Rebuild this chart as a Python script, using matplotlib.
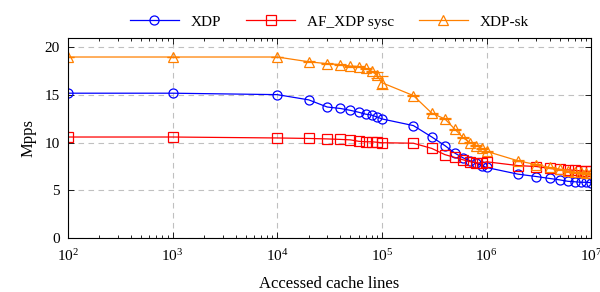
import matplotlib.pyplot as plt
import numpy as np

# Accessed cache lines (x) and throughput in Mpps
lines = [1e2, 1e3, 1e4, 2e4, 3e4, 4e4, 5e4, 6e4, 7e4, 8e4, 9e4, 1e5,
         2e5, 3e5, 4e5, 5e5, 6e5, 7e5, 8e5, 9e5, 1e6,
         2e6, 3e6, 4e6, 5e6, 6e6, 7e6, 8e6, 9e6, 1e7]

xdp = [15.2, 15.2, 15.05, 14.5, 13.75, 13.6, 13.4, 13.2, 13.0, 12.9, 12.7, 12.5,
       11.8, 10.6, 9.7, 8.9, 8.4, 8.1, 7.85, 7.6, 7.4,
       6.7, 6.45, 6.25, 6.1, 5.95, 5.9, 5.85, 5.85, 5.8]

afxdp = [10.6, 10.6, 10.5, 10.45, 10.4, 10.35, 10.3, 10.15, 10.1, 10.1, 10.05, 10.0,
         9.95, 9.4, 8.75, 8.45, 8.2, 8.0, 7.9, 7.85, 8.0,
         7.6, 7.5, 7.3, 7.2, 7.15, 7.1, 7.05, 7.0, 7.0]

xdpsk = [19.0, 19.0, 19.0, 18.5, 18.3, 18.2, 18.05, 18.0, 17.8, 17.5, 17.1, 16.3,
         14.95, 13.1, 12.5, 11.4, 10.5, 10.0, 9.7, 9.4, 9.1,
         8.1, 7.7, 7.4, 7.2, 7.0, 6.9, 6.9, 6.8, 6.8]
xdpsk_err = [0.05] * 10 + [0.3, 0.7] + [0.05] * 18

plt.rcParams['font.family'] = ['Liberation Serif', 'DejaVu Serif']
plt.rcParams['mathtext.fontset'] = 'stix'

fig = plt.figure(figsize=(6, 2.92), dpi=100)
ax = fig.add_axes([0.1133, 0.185, 0.872, 0.685])

kw = dict(linewidth=0.9, markersize=6.5, markerfacecolor='none', markeredgewidth=0.9)
ax.plot(lines, xdp, color='#0000ff', marker='o', label='XDP', **kw)
ax.plot(lines, afxdp, color='#ff0000', marker='s', label='AF_XDP sysc', **kw)
ax.errorbar(lines, xdpsk, yerr=xdpsk_err, color='#ff8000', marker='^',
            capsize=4, elinewidth=0.9, **kw)
# legend handle without error bar
ax.plot([], [], color='#ff8000', marker='^', label='XDP-sk', **kw)

ax.set_xscale('log')
ax.set_xlim(1e2, 1e7)
ax.set_ylim(0, 21)
ax.set_yticks([0, 5, 10, 15, 20])
ax.set_xticks([1e2, 1e3, 1e4, 1e5, 1e6, 1e7])

ax.grid(True, which='major', color='#c0c0c0', linestyle=(0, (5, 4)), linewidth=0.8)
ax.tick_params(which='both', direction='in', top=True, right=True, labelsize=11)
ax.tick_params(which='major', length=4, width=0.6)
ax.tick_params(which='minor', length=2.5, width=0.6)
ax.tick_params(axis='x', pad=7)
ax.tick_params(axis='y', pad=6)
for s in ax.spines.values():
    s.set_linewidth(0.8)

ax.set_xlabel('Accessed cache lines', fontsize=12, labelpad=9)
ax.set_ylabel('Mpps', fontsize=12, labelpad=6)

ax.legend(loc='lower center', bbox_to_anchor=(0.5, 1.0), ncol=3, frameon=False,
          fontsize=11, handlelength=3.2, columnspacing=1.6, borderaxespad=0.2)

plt.savefig('out.png', dpi=100)
